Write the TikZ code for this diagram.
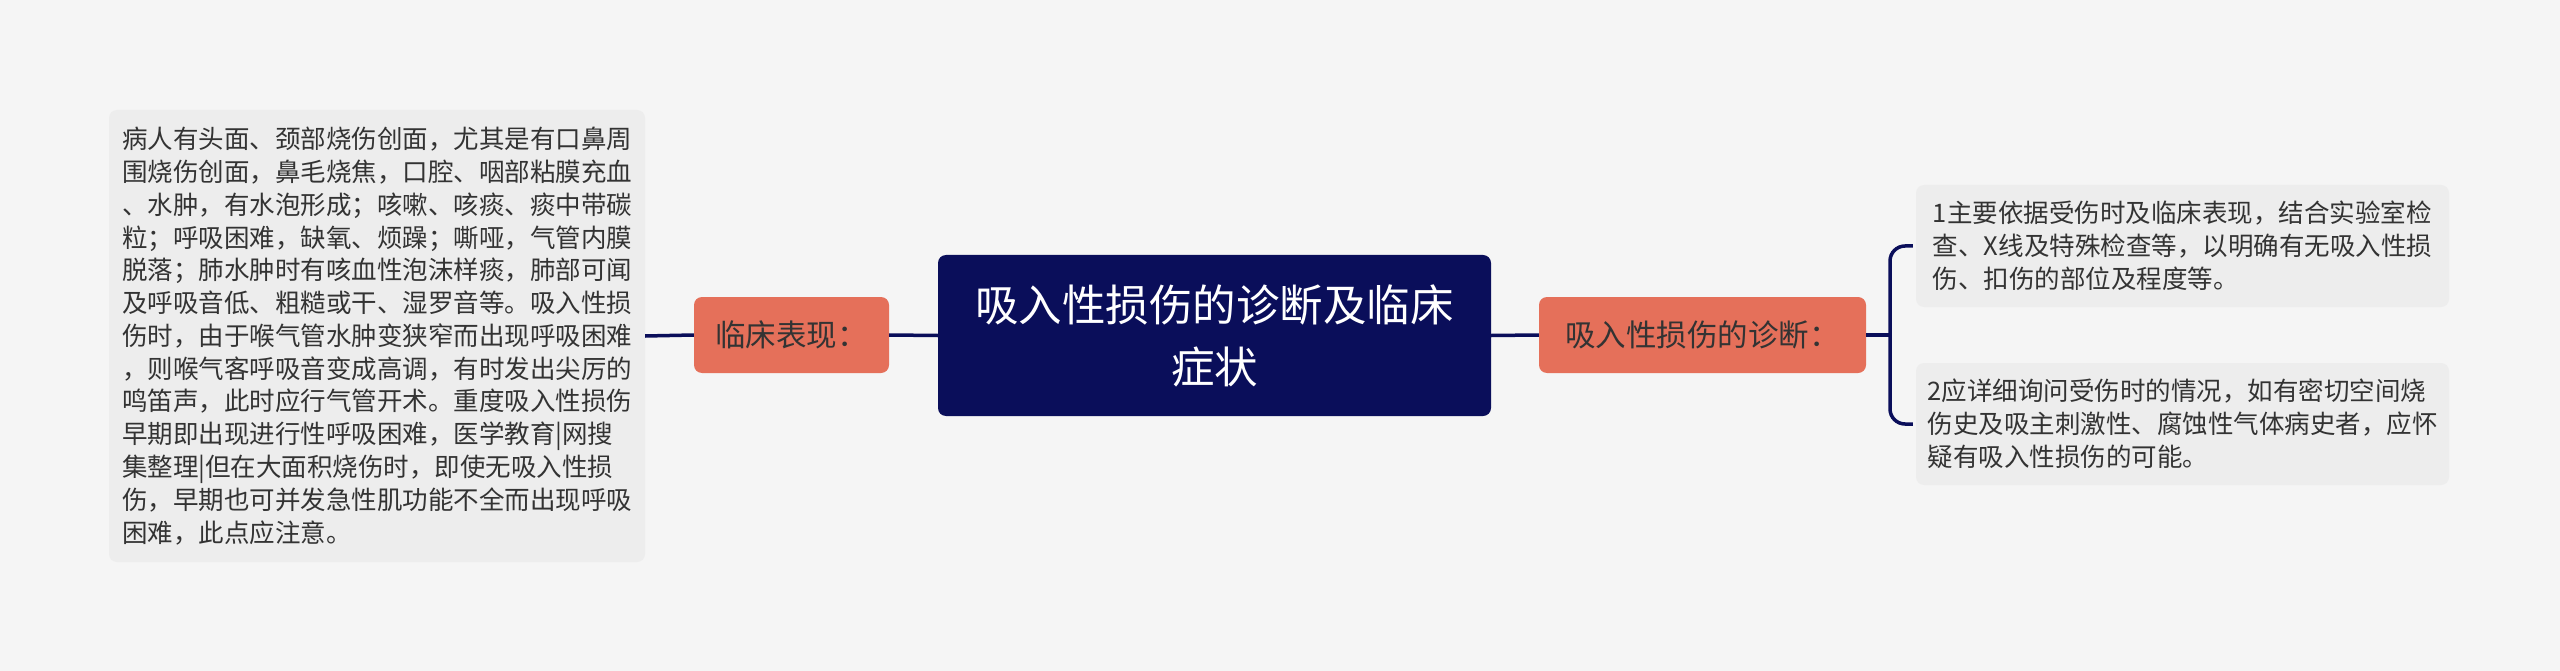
\documentclass[tikz,border=0pt]{standalone}
\usepackage{fontspec}
\setmainfont{Noto Sans CJK SC}
\definecolor{bgc}{HTML}{F5F5F5}
\definecolor{boxc}{HTML}{EDEDED}
\definecolor{navy}{HTML}{0A0E5A}
\definecolor{orng}{HTML}{E5705A}
\definecolor{txt}{HTML}{333333}
\tikzset{
  graybox/.style={fill=boxc, rounded corners=8pt, align=left, text=txt, inner sep=0pt,
    font=\fontsize{25.5}{32.8}\selectfont},
  orangebox/.style={fill=orng, rounded corners=8pt, text=txt, inner sep=0pt,
    font=\fontsize{30.5}{36}\selectfont},
  rootbox/.style={fill=navy, rounded corners=8pt, text=white, align=center, inner sep=0pt,
    font=\fontsize{43.5}{62}\selectfont},
  conn/.style={draw=navy, line width=3.5pt}
}
\begin{document}
\begin{tikzpicture}[x=1pt,y=-1pt]
\useasboundingbox[fill=bgc] (0,0) rectangle (2560,671);
\node[rootbox, minimum width=553pt, minimum height=161pt] (root) at (1214.5,335.5)
  {吸入性损伤的诊断及临床\\症状};
\node[orangebox, minimum width=195pt, minimum height=76pt] (lc) at (791.5,335) {临床表现：};
\node[orangebox, minimum width=327pt, minimum height=76pt] (zd) at (1702.5,335) {吸入性损伤的诊断：};
\node[graybox, minimum width=536pt, minimum height=452pt] (lt) at (377,336)
  {病人有头面、颈部烧伤创面，尤其是有口鼻周\\
   围烧伤创面，鼻毛烧焦，口腔、咽部粘膜充血\\
   、水肿，有水泡形成；咳嗽、咳痰、痰中带碳\\
   粒；呼吸困难，缺氧、烦躁；嘶哑，气管内膜\\
   脱落；肺水肿时有咳血性泡沫样痰，肺部可闻\\
   及呼吸音低、粗糙或干、湿罗音等。吸入性损\\
   伤时，由于喉气管水肿变狭窄而出现呼吸困难\\
   ，则喉气客呼吸音变成高调，有时发出尖厉的\\
   鸣笛声，此时应行气管开术。重度吸入性损伤\\
   早期即出现进行性呼吸困难，医学教育|网搜\\
   集整理|但在大面积烧伤时，即使无吸入性损\\
   伤，早期也可并发急性肌功能不全而出现呼吸\\
   困难，此点应注意。};
\node[graybox, minimum width=533pt, minimum height=122pt] (r1) at (2182.5,246)
  {1主要依据受伤时及临床表现，结合实验室检\\
   查、X线及特殊检查等，以明确有无吸入性损\\
   伤、扣伤的部位及程度等。};
\node[graybox, minimum width=533pt, minimum height=122pt] (r2) at (2182.5,424)
  {2应详细询问受伤时的情况，如有密切空间烧\\
   伤史及吸主刺激性、腐蚀性气体病史者，应怀\\
   疑有吸入性损伤的可能。};
\coordinate (bx) at (1890,335);
\draw[conn] (lt.east) -- (lc.west);
\draw[conn] (lc.east) -- (root.west);
\draw[conn] (root.east) -- (zd.west);
\draw[conn] (zd.east) -- (bx);
\draw[conn, rounded corners=15pt] ([xshift=-3pt]r1.west) -| (bx) |- ([xshift=-3pt]r2.west);
\end{tikzpicture}
\end{document}
